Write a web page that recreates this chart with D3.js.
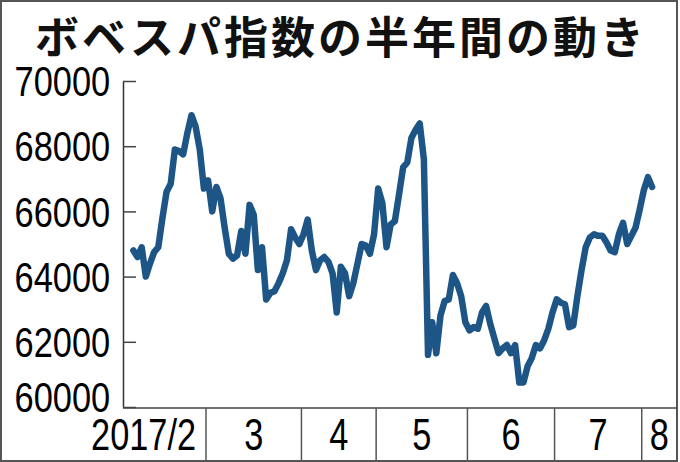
<!DOCTYPE html>
<html>
<head>
<meta charset="utf-8">
<script src="https://cdn.jsdelivr.net/npm/d3@7"></script>
<style>
  html, body { margin: 0; padding: 0; background: #fff; }
  svg { display: block; }
</style>
</head>
<body>
<div id="chart"></div>
<script>
(function () {

  // ボベスパ指数 終値（営業日ごと、2017/2〜8）
  const bovespa = [
    64800, 64600, 64900, 64000, 64400, 64750, 64900, 65800, 66600, 66850,
    67900, 67850, 67750, 68400, 68950, 68600, 67900, 66700, 66950, 66000,
    66750, 66400, 65500, 64700, 64550, 64650, 65400, 64700, 66200, 65900,
    64200, 64900, 63300, 63500, 63550, 63800, 64100, 64500, 65450, 65200,
    65000, 65300, 65750, 64800, 64200, 64500, 64600, 64450, 64100, 62900,
    64300, 64100, 63400, 63800, 64400, 65000, 64950, 64700, 65300, 66700,
    66250, 64900, 65600, 65700, 66500, 67350, 67500, 68250, 68500, 68700,
    67600, 61600, 62600, 61650, 62800, 63250, 63300, 64050, 63800, 63400,
    62600, 62350, 62450, 62400, 62900, 63100, 62550, 62100, 61650, 61800,
    61900, 61650, 61900, 60750, 60750, 61250, 61500, 61900, 61800, 62050,
    62400, 62900, 63300, 63200, 63150, 62450, 62500, 63400, 64200, 64900,
    65200, 65300, 65250, 65250, 65050, 64800, 64750, 65300, 65650, 65000,
    65250, 65500, 66050, 66650, 67050, 66750
  ];

  // 月の区切り（その月の最初の営業日のインデックス）
  const monthStarts = [18, 41, 59, 81, 102, 123];
  const monthLabels = ["2017/2", "3", "4", "5", "6", "7", "8"];
  const yTicks = [60000, 62000, 64000, 66000, 68000, 70000];

  const width = 680;
  const height = 462;
  const axisLeftX = 123;
  const plotRight = 677;
  const plotTop = 81;
  const plotBottom = 407;
  const frameBottom = 461;

  const svg = d3.select("#chart")
    .append("svg")
    .attr("width", width)
    .attr("height", height);

  // outer frame
  svg.append("rect")
    .attr("x", 1)
    .attr("y", 1)
    .attr("width", plotRight - 1)
    .attr("height", frameBottom - 1)
    .attr("fill", "none")
    .attr("stroke", "#555")
    .attr("stroke-width", 2);

  svg.append("text")
    .attr("x", 341)
    .attr("y", 54)
    .attr("text-anchor", "middle")
    .style("font-family", "'Noto Sans CJK JP', sans-serif")
    .style("font-weight", "bold")
    .style("font-size", "44px")
    .style("letter-spacing", "3px")
    .style("fill", "#111")
    .text("ボベスパ指数の半年間の動き");

  const x = d3.scaleLinear()
    .domain([-2.5, 131])
    .range([axisLeftX, plotRight]);

  const y = d3.scaleLinear()
    .domain([60000, 70000])
    .range([plotBottom, plotTop]);

  // y axis: ticks inside, labels outside
  const yAxis = svg.append("g")
    .attr("transform", "translate(" + axisLeftX + ",0)")
    .call(d3.axisLeft(y)
      .tickValues(yTicks)
      .tickSizeInner(-13)
      .tickSizeOuter(0)
      .tickPadding(16)
      .tickFormat(d3.format("d")));

  yAxis.select(".domain").attr("stroke", "#333").attr("stroke-width", 1.5);
  yAxis.selectAll(".tick line").attr("stroke", "#444").attr("stroke-width", 1.5);
  yAxis.selectAll(".tick text")
    .attr("transform", "scale(0.8,1)")
    .attr("dy", function (d) { return d === 60000 ? "0.1em" : "0.34em"; })
    .style("font-family", "'Liberation Sans', Arial, sans-serif")
    .style("font-size", "43px")
    .style("fill", "#000");

  // bottom axis line
  svg.append("line")
    .attr("x1", axisLeftX)
    .attr("x2", plotRight)
    .attr("y1", plotBottom + 1)
    .attr("y2", plotBottom + 1)
    .attr("stroke", "#444")
    .attr("stroke-width", 1.5);

  // month dividers below the plot
  svg.selectAll(".divider")
    .data(monthStarts)
    .enter().append("line")
    .attr("class", "divider")
    .attr("x1", d => x(d - 0.5))
    .attr("x2", d => x(d - 0.5))
    .attr("y1", plotBottom + 1)
    .attr("y2", frameBottom)
    .attr("stroke", "#555")
    .attr("stroke-width", 1.5);

  const edges = [-2.5].concat(monthStarts.map(d => d - 0.5), [131]);
  const labelScale = 0.78;

  svg.selectAll(".month")
    .data(monthLabels)
    .enter().append("text")
    .attr("class", "month")
    .attr("text-anchor", (d, i) => i === 0 ? "end" : "middle")
    .attr("transform", function (d, i) {
      const cx = i === 0 ? x(edges[1]) - 10 : (x(edges[i]) + x(edges[i + 1])) / 2;
      return "translate(" + cx + ",450) scale(" + labelScale + ",1)";
    })
    .style("font-family", "'Liberation Sans', Arial, sans-serif")
    .style("font-size", "44px")
    .style("fill", "#000")
    .text(d => d);

  const line = d3.line()
    .x((d, i) => x(i))
    .y(d => y(d));

  svg.append("path")
    .datum(bovespa)
    .attr("d", line)
    .attr("fill", "none")
    .attr("stroke", "#1e5587")
    .attr("stroke-width", 6.5)
    .attr("stroke-linejoin", "round")
    .attr("stroke-linecap", "round");

})();
</script>
</body>
</html>
